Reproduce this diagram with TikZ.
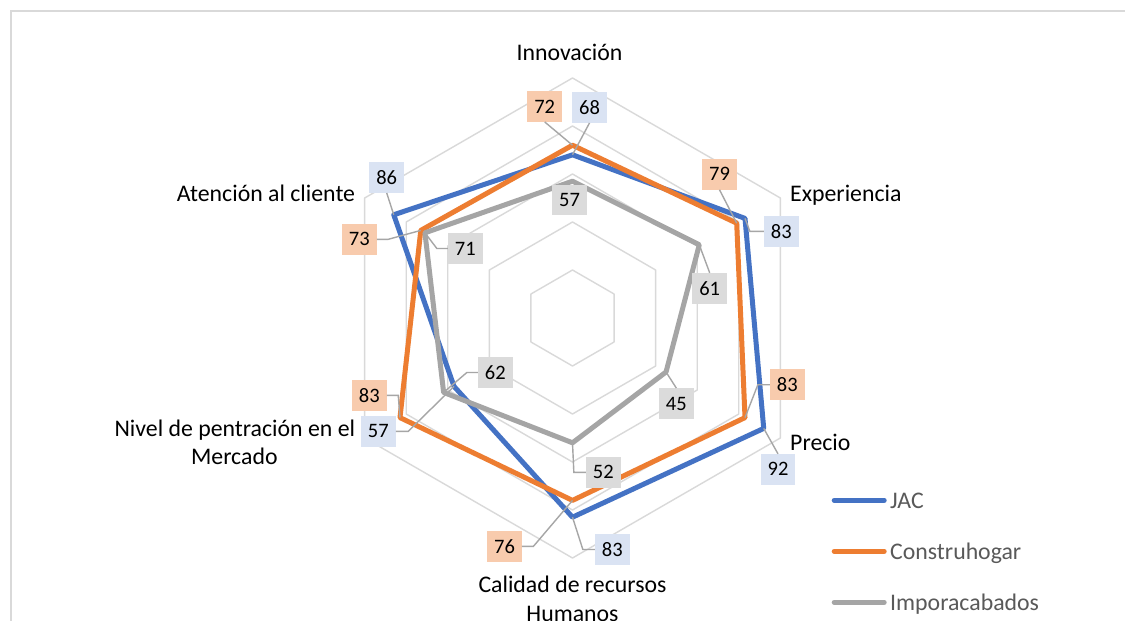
\documentclass[tikz,border=0pt]{standalone}
\usepackage{fontspec}
\setmainfont{Carlito}
\usetikzlibrary{calc}
\definecolor{cjac}{HTML}{4472C4}
\definecolor{ccon}{HTML}{ED7D31}
\definecolor{cimp}{HTML}{A5A5A5}
\definecolor{fjac}{HTML}{DAE3F3}
\definecolor{fcon}{HTML}{F8CBAD}
\definecolor{fimp}{HTML}{DBDBDB}
\definecolor{cgrid}{HTML}{D9D9D9}
\definecolor{clead}{HTML}{A6A6A6}
\definecolor{clegtext}{HTML}{595959}
\begin{document}
\begin{tikzpicture}[x=1pt,y=-1pt,
  gridline/.style={draw=cgrid, line width=1.4pt, line join=round},
  serie/.style={line width=5pt, line join=round, line cap=round},
  lead/.style={draw=clead, line width=1.4pt},
  dlab/.style={inner sep=0pt, minimum width=34.5pt, minimum height=30.5pt, font=\fontsize{20.5}{24}\selectfont, text=black},
  labj/.style={dlab, fill=fjac},
  labc/.style={dlab, fill=fcon},
  labg/.style={dlab, fill=fimp},
  cat/.style={inner sep=0pt, font=\fontsize{23.8}{29}\selectfont, text=black},
  leg/.style={inner sep=0pt, font=\fontsize{23.8}{29}\selectfont, text=clegtext},
  legline/.style={line width=5pt, line cap=round}]
\useasboundingbox (0,0) rectangle (1125,621);
\fill[white] (0,0) rectangle (1125,621);
% chart frame
\draw[cgrid, line width=2pt] (11,621) -- (11,10.5) -- (1125,10.5);

% grid and data points
\begin{scope}[shift={(572.5,318)}]
  \foreach \r in {48,96,144,192,240}
    \draw[gridline] (-90:\r) -- (-30:\r) -- (30:\r) -- (90:\r) -- (150:\r) -- (210:\r) -- cycle;
  % JAC
  \coordinate (j1) at (-90:{68*2.4});
  \coordinate (j2) at (-30:{83*2.4});
  \coordinate (j3) at (30:{92*2.4});
  \coordinate (j4) at (90:{83*2.4});
  \coordinate (j5) at (150:{57*2.4});
  \coordinate (j6) at (210:{86*2.4});
  % Construhogar
  \coordinate (c1) at (-90:{72*2.4});
  \coordinate (c2) at (-30:{79*2.4});
  \coordinate (c3) at (30:{83*2.4});
  \coordinate (c4) at (90:{76*2.4});
  \coordinate (c5) at (150:{83*2.4});
  \coordinate (c6) at (210:{73*2.4});
  % Imporacabados
  \coordinate (g1) at (-90:{57*2.4});
  \coordinate (g2) at (-30:{61*2.4});
  \coordinate (g3) at (30:{45*2.4});
  \coordinate (g4) at (90:{52*2.4});
  \coordinate (g5) at (150:{62*2.4});
  \coordinate (g6) at (210:{71*2.4});
\end{scope}

% series
\draw[serie, cjac] (j1) -- (j2) -- (j3) -- (j4) -- (j5) -- (j6) -- cycle;
\draw[serie, ccon] (c1) -- (c2) -- (c3) -- (c4) -- (c5) -- (c6) -- cycle;
\draw[serie, cimp] (g1) -- (g2) -- (g3) -- (g4) -- (g5) -- (g6) -- cycle;

% data labels
\node[labj] (Lj1) at (589.5,107.5) {68};
\node[labc] (Lc1) at (544.7,106.5) {72};
\node[labg] (Lg1) at (569.5,200) {57};
\node[labc] (Lc2) at (719.5,174.3) {79};
\node[labj] (Lj2) at (781.3,231.3) {83};
\node[labg] (Lg2) at (709.7,288.3) {61};
\node[labc] (Lc3) at (787.3,384.7) {83};
\node[labj] (Lj3) at (778,469.3) {92};
\node[labg] (Lg3) at (676.3,403.5) {45};
\node[labg] (Lg4) at (603.3,472.3) {52};
\node[labj] (Lj4) at (612.3,549.5) {83};
\node[labc] (Lc4) at (504.5,546.3) {76};
\node[labg] (Lg5) at (495.3,372.5) {62};
\node[labc] (Lc5) at (369.3,395.3) {83};
\node[labj] (Lj5) at (378.3,431.3) {57};
\node[labj] (Lj6) at (386.7,177.5) {86};
\node[labc] (Lc6) at (359.3,239.3) {73};
\node[labg] (Lg6) at (465.3,248.5) {71};

% leader lines
\draw[lead] (Lc1.south) -- (c1);
\draw[lead] (Lj1.south) -- (j1);
\draw[lead] (Lc2.south) -- (c2);
\draw[lead] (Lj2.west) -- ++(-14,0) -- (j2);
\draw[lead] (Lg2.north) -- (g2);
\draw[lead] (Lc3.west) -- ++(-12,0) -- (c3);
\draw[lead] (Lj3.north) -- (j3);
\draw[lead] (Lg3.north) -- (g3);
\draw[lead] (Lg4.west) -- ++(-12,0) -- (g4);
\draw[lead] (Lj4.west) -- ++(-12,0) -- (j4);
\draw[lead] (Lc4.east) -- ++(11.5,0) -- (c4);
\draw[lead] (Lg5.west) -- ++(-11,0) -- (g5);
\draw[lead] (Lc5.east) -- ++(11.5,0) -- (c5);
\draw[lead] (Lj5.east) -- ++(12.5,0) -- (j5);
\draw[lead] (Lj6.south) -- (j6);
\draw[lead] (Lc6.east) -- ++(11.5,0) -- (c6);
\draw[lead] (Lg6.west) -- ++(-11,0) -- (g6);

% category labels
\node[cat, anchor=base] (k1) at (569.5,60.7) {Innovación};
\node[cat, anchor=base west] (k2) at (790,201.7) {Experiencia};
\node[cat, anchor=base west] (k3) at (790,450) {Precio};
\node[cat, anchor=base] (k4a) at (572.5,592) {Calidad de recursos};
\node[cat, anchor=base] (k4b) at (572.5,621.5) {Humanos};
\node[cat, anchor=base east] (k5a) at (355.3,436) {Nivel de pentración en el};
\node[cat, anchor=base] (k5b) at (234.3,464.5) {Mercado};
\node[cat, anchor=base east] (k6) at (355.3,201) {Atención al cliente};

% legend
\draw[legline, cjac] (834.2,500.3) -- (884.2,500.3);
\node[leg, anchor=base west] (t1) at (890,508.3) {JAC};
\draw[legline, ccon] (834.2,551.3) -- (884.2,551.3);
\node[leg, anchor=base west] (t2) at (890,559.3) {Construhogar};
\draw[legline, cimp] (834.2,602.3) -- (884.2,602.3);
\node[leg, anchor=base west] (t3) at (890,610.3) {Imporacabados};
\end{tikzpicture}
\end{document}
